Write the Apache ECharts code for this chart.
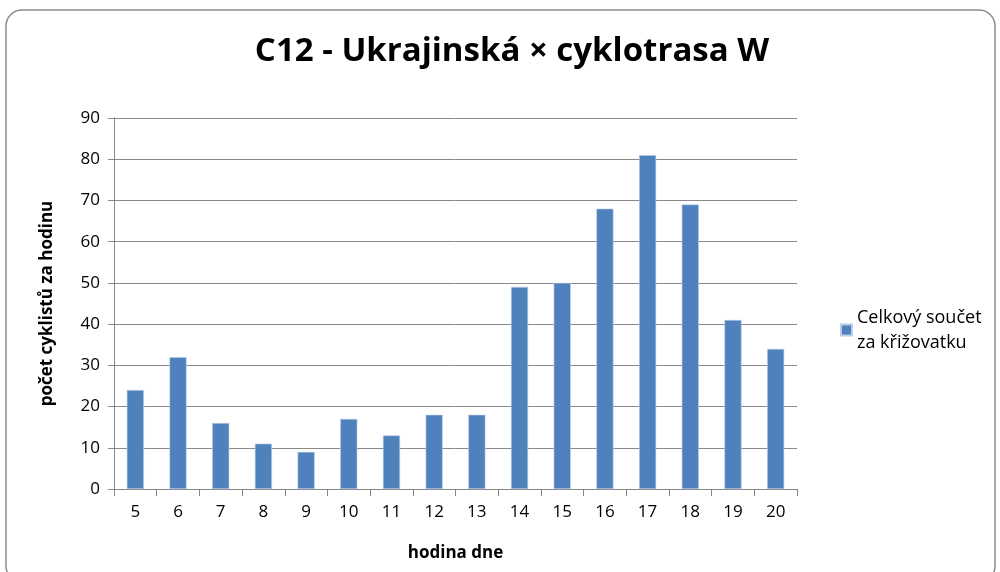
<!DOCTYPE html>
<html>
<head>
<meta charset="utf-8">
<script src="https://cdn.jsdelivr.net/npm/echarts@6/dist/echarts.min.js"></script>
<style>
  html, body { margin: 0; padding: 0; background: #fff; }
  #chart { width: 1000px; height: 572px; }
</style>
</head>
<body>
<div id="chart"></div>
<script>
// hodiny dne
var hours = ["5", "6", "7", "8", "9", "10", "11", "12", "13", "14", "15", "16", "17", "18", "19", "20"];
// celkový součet za křižovatku
var totals = [24, 32, 16, 11, 9, 17, 13, 18, 18, 49, 50, 68, 81, 69, 41, 34];

var font = '"Open Sans", sans-serif';

var myChart = echarts.init(document.getElementById("chart"));
var option = {
  backgroundColor: "#fff",
  color: ["#4F81BD"],
  textStyle: { fontFamily: font },
  title: {
    text: "C12 - Ukrajinská × cyklotrasa W",
    left: 507,
    textAlign: "center",
    top: 30,
    textStyle: { fontFamily: font, fontSize: 33, fontWeight: "bold", color: "#000" }
  },
  graphic: [
    {
      type: "rect",
      shape: { x: 6, y: 10, width: 989, height: 572, r: 16 },
      style: { fill: null, stroke: "#8c8c8c", lineWidth: 1.5 },
      silent: true
    }
  ],
  legend: {
    left: 835,
    top: 300,
    orient: "vertical",
    itemWidth: 11,
    itemHeight: 11,
    itemGap: 4,
    textStyle: { fontFamily: font, fontSize: 18, color: "#000", lineHeight: 25 },
    data: [{ name: "Celkový součet\nza křižovatku", icon: "rect" }]
  },
  grid: {
    left: 114,
    right: 203,
    top: 118,
    bottom: 83,
    containLabel: false
  },
  xAxis: {
    type: "category",
    data: hours,
    name: "hodina dne",
    nameLocation: "middle",
    nameGap: 56,
    nameTextStyle: { fontFamily: font, fontSize: 17, fontWeight: "bold", color: "#000" },
    axisLine: { lineStyle: { color: "#888", width: 1 } },
    axisTick: { show: true, length: 7, lineStyle: { color: "#888" } },
    axisLabel: { fontFamily: font, fontSize: 17, color: "#000", margin: 15 },
    splitLine: { show: false }
  },
  yAxis: {
    type: "value",
    min: 0,
    max: 90,
    interval: 10,
    name: "počet cyklistů za hodinu",
    nameLocation: "middle",
    nameGap: 58,
    nameTextStyle: { fontFamily: font, fontSize: 17, fontWeight: "bold", color: "#000" },
    axisLine: { show: true, lineStyle: { color: "#888", width: 1 } },
    axisTick: { show: true, length: 6, lineStyle: { color: "#888" } },
    axisLabel: { fontFamily: font, fontSize: 17, color: "#000", margin: 14 },
    splitLine: { show: true, lineStyle: { color: "#8a8a8a", width: 1 } }
  },
  series: [
    {
      name: "Celkový součet\nza křižovatku",
      type: "bar",
      barWidth: "40%",
      data: totals,
      itemStyle: { color: "#4F81BD", borderColor: "#B9CDE5", borderWidth: 0.6 }
    }
  ]
};
myChart.setOption(option);
</script>
</body>
</html>
